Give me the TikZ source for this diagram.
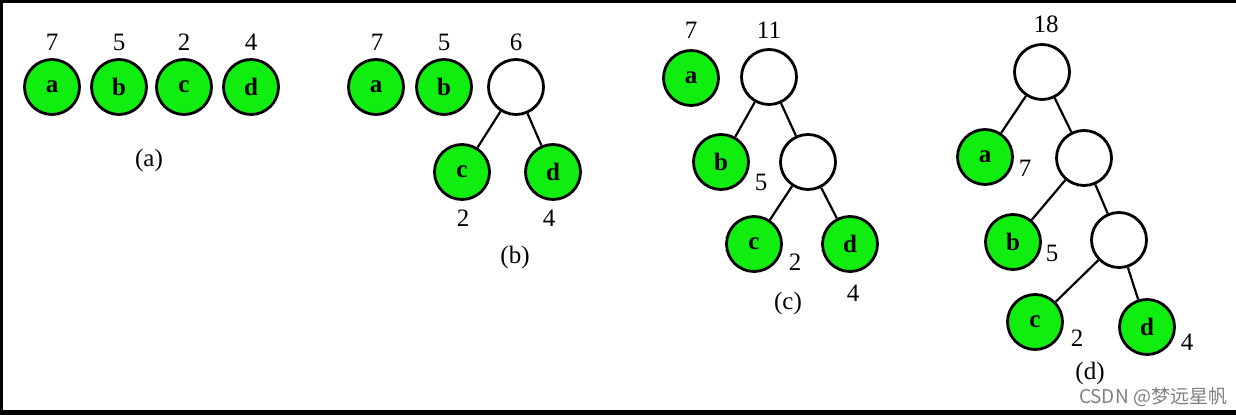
\documentclass[tikz,border=0pt]{standalone}
\usepackage{fontspec}
\setmainfont{Liberation Serif}
\newfontfamily\cjk{Noto Sans CJK SC}
\definecolor{vert}{RGB}{16,238,16}
\begin{document}
\begin{tikzpicture}[x=0.5pt, y=-0.5pt, every node/.style={font=\fontsize{12.5}{14}\selectfont},
    leaf/.style={circle, draw, line width=1.4pt, fill=vert, minimum size=27.5pt, inner sep=0pt, font=\fontsize{12.5}{14}\selectfont\bfseries},
    blank/.style={circle, draw, line width=1.4pt, fill=white, minimum size=27.5pt, inner sep=0pt},
    lien/.style={line width=1.1pt}]
    % cadre
    \useasboundingbox (0,0) rectangle (1236,415);
    \fill[white] (0,0) rectangle (1236,415);
    \fill[black] (0,0) rectangle (1236,3);
    \fill[black] (0,0) rectangle (3,415);
    \fill[black] (0,410) rectangle (1236,415);

    % (a)
    \foreach \n/\x/\w in {a/52/7, b/119/5, c/184/2, d/251/4} {
        \node[leaf] (a\n) at (\x,87) {\n};
        \node (wa\n) at (\x,42) {\w};
    }
    \node (capa) at (149,160) {(a)};

    % (b)
    \node[leaf] (ba) at (376,87) {a};
    \node[leaf] (bb) at (444,87) {b};
    \node[blank] (bn) at (516,87) {};
    \node[leaf] (bc) at (462,172) {c};
    \node[leaf] (bd) at (553,172) {d};
    \draw[lien] (bn) -- (bc);
    \draw[lien] (bn) -- (bd);
    \node (wba) at (377,42) {7};
    \node (wbb) at (444,42) {5};
    \node (wbn) at (516,42) {6};
    \node (wbc) at (463,218) {2};
    \node (wbd) at (549,218) {4};
    \node (capb) at (515,257) {(b)};

    % (c)
    \node[leaf] (ca) at (691,78) {a};
    \node[blank] (cn1) at (769,77) {};
    \node[leaf] (cb) at (721,162) {b};
    \node[blank] (cn2) at (808,162) {};
    \node[leaf] (cc) at (754,244) {c};
    \node[leaf] (cd) at (850,244) {d};
    \draw[lien] (cn1) -- (cb);
    \draw[lien] (cn1) -- (cn2);
    \draw[lien] (cn2) -- (cc);
    \draw[lien] (cn2) -- (cd);
    \node (wca) at (691,30) {7};
    \node (wcn1) at (769,30) {11};
    \node (wcb) at (761,182) {5};
    \node (wcc) at (795,262) {2};
    \node (wcd) at (853,293) {4};
    \node (capc) at (788,303) {(c)};

    % (d)
    \node[blank] (dn1) at (1042,72) {};
    \node[leaf] (da) at (985,157) {a};
    \node[blank] (dn2) at (1084,158) {};
    \node[leaf] (db) at (1013,242) {b};
    \node[blank] (dn3) at (1119,240) {};
    \node[leaf] (dc) at (1035,322) {c};
    \node[leaf] (dd) at (1147,327) {d};
    \draw[lien] (dn1) -- (da);
    \draw[lien] (dn1) -- (dn2);
    \draw[lien] (dn2) -- (db);
    \draw[lien] (dn2) -- (dn3);
    \draw[lien] (dn3) -- (dc);
    \draw[lien] (dn3) -- (dd);
    \node (wdn1) at (1046,24) {18};
    \node (wda) at (1025,168) {7};
    \node (wdb) at (1052,253) {5};
    \node (wdc) at (1077,338) {2};
    \node (wdd) at (1187,342) {4};
    \node (capd) at (1090,373) {(d)};

    % filigrane
    \node[text=gray, font=\cjk\fontsize{9.5}{11}\selectfont] (csdn) at (1153,397) {CSDN @梦远星帆};
\end{tikzpicture}
\end{document}
